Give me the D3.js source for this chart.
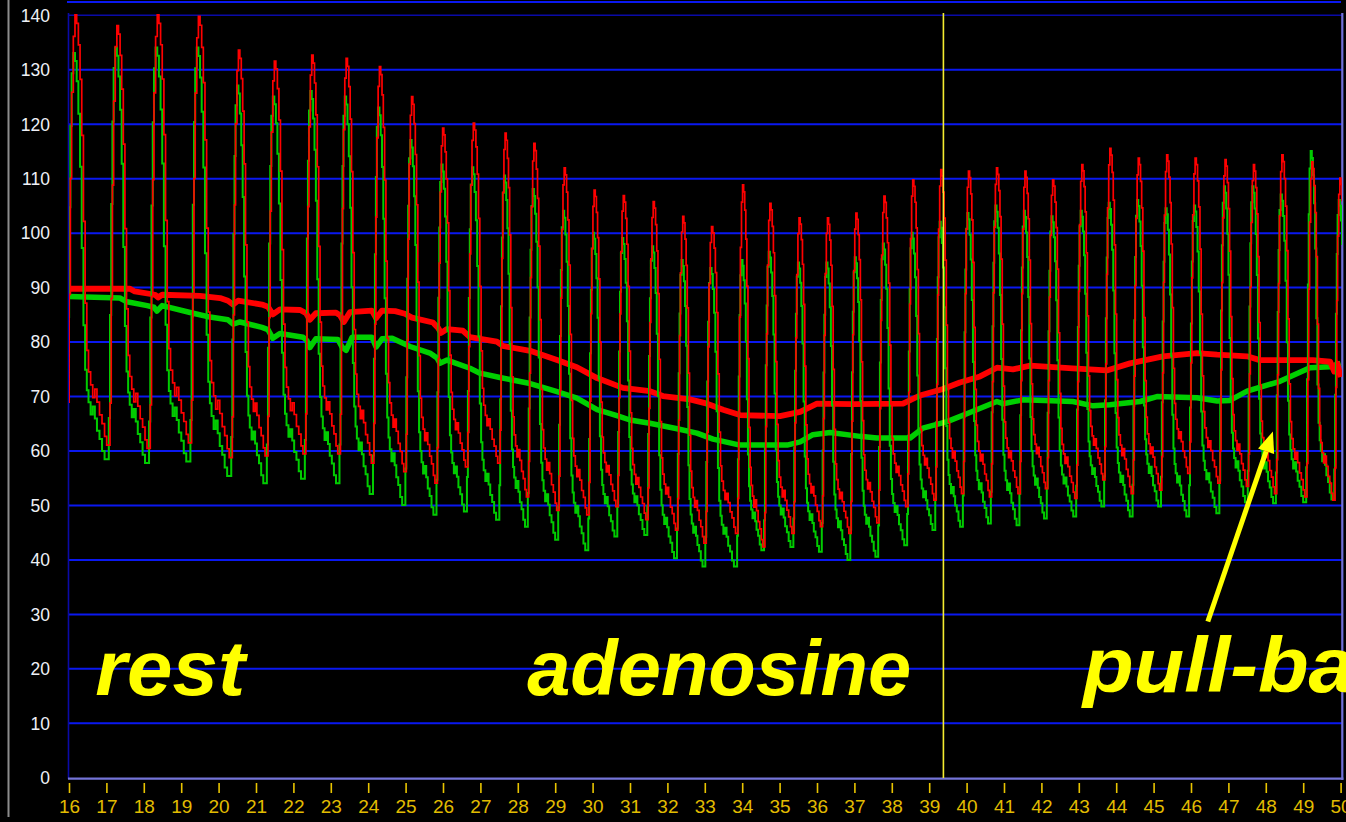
<!DOCTYPE html>
<html>
<head>
<meta charset="utf-8">
<script src="https://cdn.jsdelivr.net/npm/d3@7"></script>
<style>
  html, body { margin: 0; padding: 0; background: #000; overflow: hidden; }
  svg { display: block; }
</style>
</head>
<body>
<svg id="chart" width="1346" height="822"></svg>
<script>
// ---- Beat-by-beat readings (time of systolic peak, seconds) ----
const beatTimes = [16.16, 17.28, 18.36, 19.46, 20.53, 21.49, 22.49, 23.41, 24.30, 25.16,
  25.99, 26.81, 27.66, 28.43, 29.24, 30.04, 30.82, 31.62, 32.41, 33.18,
  34.01, 34.74, 35.52, 36.28, 37.04, 37.79, 38.56, 39.31, 40.05, 40.80,
  41.56, 42.30, 43.08, 43.83, 44.59, 45.35, 46.11, 46.91, 47.67, 48.43,
  49.23, 49.98];

// Aortic pressure (red): systolic peak and end-diastolic minimum of each beat
const paSys = [140, 138, 140, 139.7, 133.5, 131.5, 132.6, 132, 130.5, 125,
  119.2, 120.1, 118.3, 116.4, 111.9, 107.8, 106.8, 105.7, 103, 101.1,
  108.8, 105.4, 102.7, 102.7, 103.6, 106.7, 109.7, 111.6, 111.3, 111.9,
  111.3, 109.7, 112.5, 115.5, 113.7, 114.3, 113.7, 113.4, 112.5, 114.3,
  113, 110];
const paDia = [61, 60.4, 61.4, 58.7, 59, 59.4, 59.4, 57.7, 56.1, 54,
  57, 57.7, 51.5, 49, 48.2, 49.7, 47.3, 45.4, 43, 44.8,
  42.3, 44.8, 46, 44.8, 46.7, 49.7, 50.9, 52.1, 51.5, 52.1,
  53, 51.2, 54.6, 52.1, 52.7, 55.8, 54, 53.4, 52.1, 51.5,
  50.9, 52];

// Distal pressure (green): systolic peak and end-diastolic minimum of each beat
const pdSys = [133, 134, 134, 134, 127, 125, 126, 125, 123, 117,
  112.5, 112, 110.5, 108, 104, 100, 99, 97.5, 95, 93.5,
  95, 96.5, 94.5, 94.5, 95.5, 98, 100, 102, 103.6, 105,
  104, 103, 104, 105.5, 106, 104.5, 105, 108.5, 108.5, 107,
  115, 106];
const pdDia = [58.4, 57.7, 58, 55.3, 54, 54.8, 54, 52, 50, 48.2,
  48.8, 47.3, 46, 43.6, 41.7, 44.2, 44.5, 40.2, 38.7, 38.7,
  41.7, 42.3, 41.4, 39.9, 40.5, 42.6, 45.4, 46, 46.6, 46.3,
  47.5, 47.9, 49.7, 47.9, 49.7, 47.9, 48.5, 50.5, 50.3, 50.5,
  51, 52];

// Shape of one pulse: phase within the beat (0 = upstroke onset) and
// normalised height (0 = diastolic floor, 1 = systolic peak)
const PEAK_PHASE = 0.2;
const beatPhase = [0, 0.03, 0.06, 0.09, 0.12, 0.16, 0.2, 0.24, 0.28, 0.32, 0.36,
  0.4, 0.44, 0.48, 0.52, 0.57, 0.62, 0.67, 0.72, 0.78, 0.84, 0.9, 0.95];
const beatShape = [0, 0.1, 0.35, 0.62, 0.82, 0.95, 1.0, 0.98, 0.93, 0.85, 0.72,
  0.52, 0.33, 0.22, 0.17, 0.14, 0.11, 0.13, 0.1, 0.07, 0.05, 0.02, 0];

// ---- Running mean pressures ----
const paMeanTime = [16.00, 17.63, 17.76, 18.30, 18.38, 18.49, 19.50, 20.04, 20.25, 20.39,
  20.52, 21.16, 21.32, 21.45, 21.64, 22.18, 22.34, 22.44, 22.60, 23.14,
  23.25, 23.35, 23.51, 24.10, 24.21, 24.37, 24.72, 24.98, 25.17, 25.73,
  25.87, 25.95, 26.11, 26.53, 26.72, 27.44, 27.60, 28.33, 29.05, 29.58,
  30.12, 30.81, 31.53, 31.88, 32.60, 33.06, 33.49, 33.94, 35.01, 35.55,
  36.00, 36.96, 38.30, 38.75, 39.37, 39.82, 40.36, 40.81, 41.24, 41.70,
  42.84, 43.75, 44.37, 45.25, 46.16, 46.70, 47.50, 47.84, 49.26, 49.72,
  49.83, 49.91, 50.00];
const paMeanValue = [89.7, 89.7, 89.2, 88.6, 88.1, 88.6, 88.4, 88.0, 87.5, 86.8,
  87.5, 86.8, 86.4, 85.0, 85.9, 85.8, 85.2, 84.0, 85.2, 85.3,
  84.8, 83.6, 85.4, 85.7, 84.3, 85.7, 85.6, 85.1, 84.4, 83.5,
  82.5, 81.6, 82.3, 82.0, 80.8, 80.0, 79.2, 78.3, 76.6, 75.3,
  73.3, 71.5, 70.9, 70.0, 69.4, 68.6, 67.5, 66.5, 66.3, 67.1,
  68.6, 68.5, 68.6, 70.1, 71.3, 72.5, 73.6, 75.2, 74.9, 75.6,
  75.1, 74.7, 76.0, 77.3, 77.9, 77.6, 77.3, 76.6, 76.6, 76.3,
  74.5, 76.0, 73.5];

const pdMeanTime = [16.00, 17.36, 17.55, 18.09, 18.27, 18.35, 18.49, 19.32, 19.77, 20.25,
  20.39, 20.57, 21.16, 21.32, 21.45, 21.64, 22.26, 22.36, 22.44, 22.60,
  23.19, 23.30, 23.41, 23.57, 24.10, 24.21, 24.37, 24.64, 25.12, 25.65,
  25.84, 25.92, 26.11, 26.72, 26.99, 27.52, 28.33, 29.05, 29.58, 30.12,
  30.65, 31.00, 31.53, 32.26, 32.79, 33.22, 33.94, 35.20, 35.55, 35.89,
  36.35, 37.15, 37.60, 38.49, 38.83, 39.48, 40.17, 40.81, 40.97, 41.51,
  42.84, 43.38, 43.83, 44.64, 45.09, 46.16, 46.70, 47.04, 47.50, 48.38,
  49.18, 49.72, 50.00];
const pdMeanValue = [88.3, 88.0, 87.3, 86.6, 86.3, 85.6, 86.6, 85.2, 84.5, 84.0,
  83.2, 83.6, 82.6, 82.2, 80.6, 81.5, 80.8, 80.2, 78.9, 80.5,
  80.4, 79.0, 78.4, 80.8, 80.8, 79.0, 80.5, 80.6, 79.1, 77.9,
  77.0, 76.0, 76.6, 75.1, 74.2, 73.4, 72.3, 70.8, 69.6, 67.5,
  66.4, 65.6, 65.0, 64.0, 63.2, 62.1, 61.0, 61.0, 61.6, 62.9,
  63.3, 62.6, 62.3, 62.3, 64.1, 65.3, 67.2, 69.0, 68.6, 69.3,
  69.0, 68.2, 68.4, 69.0, 69.9, 69.7, 69.1, 69.2, 70.9, 72.7,
  75.2, 75.4, 76.0];

// ---- Axes ticks, marker and labels ----
const xTicks = d3.range(16, 51, 1);
const yTicks = d3.range(0, 141, 10);
const markerTime = 39.38;
const phaseLabels = [
  { text: "rest", t: 16.70, v: 15.2, len: 150 },
  { text: "adenosine", t: 28.25, v: 15.2, len: 384 },
  { text: "pull-back", t: 43.11, v: 15.6, len: 364 }
];
const arrowTail = { t: 46.45, v: 28.6 };
const arrowTip = { t: 48.19, v: 63.5 };

// ---- Layout ----
const W = 1346, H = 822;
const plotLeft = 69, plotRight = 1340.6, plotTop = 14.8, plotBottom = 777.3;

const svg = d3.select("#chart");
svg.append("rect").attr("width", W).attr("height", H).attr("fill", "#000");

const x = d3.scaleLinear().domain([16, 50]).range([plotLeft, plotRight]);
const y = d3.scaleLinear().domain([0, 140]).range([plotBottom, plotTop]);

// separator line at far left and panel edge above
svg.append("line").attr("x1", 8.5).attr("x2", 8.5).attr("y1", 0).attr("y2", 817)
  .attr("stroke", "#8c8c8c").attr("stroke-width", 2);
svg.append("line").attr("x1", 67).attr("x2", 1341).attr("y1", 2).attr("y2", 2)
  .attr("stroke", "#0a18f0").attr("stroke-width", 2);

// horizontal grid + y labels
const yAxis = d3.axisLeft(y).tickValues(yTicks).tickSize(-(1342 - plotLeft)).tickPadding(19);
const gy = svg.append("g").attr("transform", `translate(${plotLeft},0)`).call(yAxis);
gy.select(".domain").remove();
gy.selectAll(".tick line")
  .attr("stroke", d => d === 140 ? "#0a0aa8" : "#0a18f0")
  .attr("stroke-width", d => d === 140 ? 1.6 : 2)
  .attr("display", d => d === 0 ? "none" : null);
gy.selectAll(".tick text")
  .attr("fill", "#eef0f6")
  .attr("font-family", "'Liberation Sans', Arial, sans-serif")
  .attr("font-size", 17.5)
  .attr("dy", "0.36em");

// frame
svg.append("line").attr("x1", plotLeft - 0.5).attr("x2", plotLeft - 0.5).attr("y1", 13).attr("y2", 779)
  .attr("stroke", "#0a0aa8").attr("stroke-width", 1.6);
svg.append("line").attr("x1", 1342.3).attr("x2", 1342.3).attr("y1", 13).attr("y2", 780)
  .attr("stroke", "#7070d8").attr("stroke-width", 2.2);
svg.append("line").attr("x1", plotLeft - 1).attr("x2", 1343.4).attr("y1", 778.6).attr("y2", 778.6)
  .attr("stroke", "#7474d8").attr("stroke-width", 2.4);

// x axis ticks + labels
const xAxis = d3.axisBottom(x).tickValues(xTicks).tickSize(10).tickPadding(6.5).tickFormat(d3.format("d"));
const gx = svg.append("g").attr("transform", "translate(0,783)").call(xAxis);
gx.select(".domain").remove();
gx.selectAll(".tick line").attr("stroke", "#e8c400").attr("stroke-width", 1.6);
gx.selectAll(".tick text")
  .attr("fill", "#e2bc00")
  .attr("font-family", "'Liberation Sans', Arial, sans-serif")
  .attr("font-size", 19);

// clip for traces
svg.append("defs").append("clipPath").attr("id", "plotClip")
  .append("rect").attr("x", plotLeft).attr("y", 13).attr("width", 1342 - plotLeft).attr("height", 778 - 13);

// build a pressure trace from the per-beat readings and the pulse shape
function pressureTrace(sys, dia) {
  const n = beatTimes.length;
  const onsets = beatTimes.map((t, i) => {
    const period = i < n - 1 ? beatTimes[i + 1] - t : t - beatTimes[i - 1];
    return t - PEAK_PHASE * period;
  });
  const pts = [];
  for (let i = 0; i < n; i++) {
    const peakT = beatTimes[i];
    const nextOnset = i < n - 1 ? onsets[i + 1] : peakT + (peakT - onsets[i]) * (1 - PEAK_PHASE) / PEAK_PHASE;
    const start = i > 0 ? dia[i - 1] : dia[0];
    const end = dia[i];
    beatPhase.forEach((p, k) => {
      const a = beatShape[k];
      let t, base;
      if (p <= PEAK_PHASE) {
        t = onsets[i] + (p / PEAK_PHASE) * (peakT - onsets[i]);
        base = start;
      } else {
        t = peakT + ((p - PEAK_PHASE) / (1 - PEAK_PHASE)) * (nextOnset - peakT);
        base = end;
      }
      pts.push([t, base + (sys[i] - base) * a]);
    });
  }
  return pts;
}

const traces = svg.append("g").attr("clip-path", "url(#plotClip)");

const meanLine = d3.line().x(d => x(d[0])).y(d => y(d[1]));
const pdMean = pdMeanTime.map((t, i) => [t, pdMeanValue[i]]);
const paMean = paMeanTime.map((t, i) => [t, paMeanValue[i]]);

traces.append("path").datum(pdMean).attr("d", meanLine)
  .attr("fill", "none").attr("stroke", "#00d000").attr("stroke-width", 5.5)
  .attr("stroke-linejoin", "round");
traces.append("path").datum(paMean).attr("d", meanLine)
  .attr("fill", "none").attr("stroke", "#ff0000").attr("stroke-width", 5.8)
  .attr("stroke-linejoin", "round");

const pdLine = d3.line().x(d => x(d[0])).y(d => y(d[1])).curve(d3.curveStepBefore);
const paLine = d3.line().x(d => x(d[0])).y(d => y(d[1])).curve(d3.curveStepAfter);

traces.append("path").datum(pressureTrace(pdSys, pdDia)).attr("d", pdLine)
  .attr("fill", "none").attr("stroke", "#00cc00").attr("stroke-width", 2);
traces.append("path").datum(pressureTrace(paSys, paDia)).attr("d", paLine)
  .attr("fill", "none").attr("stroke", "#ff0000").attr("stroke-width", 1.7);

// event marker
svg.append("line").attr("x1", x(markerTime)).attr("x2", x(markerTime))
  .attr("y1", 13).attr("y2", 778)
  .attr("stroke", "#f4ec30").attr("stroke-width", 1.6);

// phase labels
phaseLabels.forEach(l => {
  svg.append("text")
    .attr("x", x(l.t)).attr("y", y(l.v))
    .attr("fill", "#ffff00")
    .attr("font-family", "'Liberation Sans', Arial, sans-serif")
    .attr("font-weight", "bold").attr("font-style", "italic")
    .attr("font-size", 78)
    .attr("textLength", l.len).attr("lengthAdjust", "spacingAndGlyphs")
    .text(l.text);
});

// arrow pointing at the pull-back segment
const tx = x(arrowTail.t), ty = y(arrowTail.v), hx = x(arrowTip.t), hy = y(arrowTip.v);
const ang = Math.atan2(hy - ty, hx - tx);
const headLen = 21, headHalf = 8.5;
const bx = hx - headLen * Math.cos(ang), by = hy - headLen * Math.sin(ang);
svg.append("line").attr("x1", tx).attr("y1", ty).attr("x2", bx).attr("y2", by)
  .attr("stroke", "#ffff00").attr("stroke-width", 5);
svg.append("polygon")
  .attr("points", [
    [hx, hy],
    [bx + headHalf * Math.sin(ang), by - headHalf * Math.cos(ang)],
    [bx - headHalf * Math.sin(ang), by + headHalf * Math.cos(ang)]
  ].map(p => p.join(",")).join(" "))
  .attr("fill", "#ffff00");
</script>
</body>
</html>
